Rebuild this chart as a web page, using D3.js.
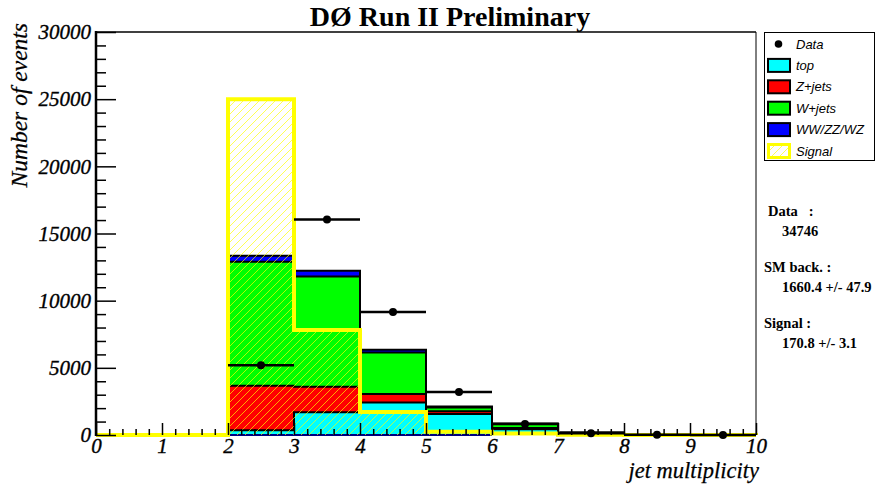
<!DOCTYPE html>
<html>
<head>
<meta charset="utf-8">
<script src="https://cdn.jsdelivr.net/npm/d3@7"></script>
<style>
  html, body { margin: 0; padding: 0; background: #fff; }
  svg { display: block; }
  .serif { font-family: "Liberation Serif", "Times New Roman", serif; }
  .sans { font-family: "Liberation Sans", Arial, sans-serif; }
</style>
</head>
<body>
<svg id="chart" width="877" height="491"></svg>
<script>
// Jet multiplicity bins: [n, n+1) for n = 0..9
const bins = [0, 1, 2, 3, 4, 5, 6, 7, 8, 9];

// Background processes (events per bin), stacked bottom to top
const topVals     = [0, 0,  350, 1690, 2420, 1570, 430, 60, 10, 5];
const zjetsVals   = [0, 0, 3320, 1910,  630,  200,  90, 30,  5, 3];
const wjetsVals   = [0, 0, 9230, 8190, 3100,  280, 290, 90, 15, 10];
const dibosonVals = [0, 0,  450,  430,  200,   80,  40, 10,  2,  2];

// Signal expectation (drawn unstacked)
const signalVals  = [0, 0, 25000, 7820, 1720, 250, 110, 20, 5, 2];

// Observed data (null = no entry drawn)
const dataVals    = [null, null, 5200, 16050, 9160, 3200, 820, 130, 10, 5];

// Axis ticks
const xTicks = [0, 1, 2, 3, 4, 5, 6, 7, 8, 9, 10];
const yTicks = [0, 5000, 10000, 15000, 20000, 25000, 30000];

// Legend entries and summary text
const legendNames = ["Data", "top", "Z+jets", "W+jets", "WW/ZZ/WZ", "Signal"];
const statLines = [
  { text: "Data   :", indent: false },
  { text: "34746", indent: true },
  { text: "SM back. :", indent: false },
  { text: "1660.4 +/- 47.9", indent: true },
  { text: "Signal :", indent: false },
  { text: "170.8 +/- 3.1", indent: true }
];

const colors = {
  top: "#00ffff", zjets: "#ff0000", wjets: "#00ff00",
  diboson: "#0000ff", signal: "#ffff00"
};

const svg = d3.select("#chart");
const W = 877, H = 491;
const plot = { left: 96, right: 756, top: 32, bottom: 435 };

const x = d3.scaleLinear().domain([0, 10]).range([plot.left, plot.right]);
const y = d3.scaleLinear().domain([0, 30000]).range([plot.bottom, plot.top]);

svg.append("rect").attr("width", W).attr("height", H).attr("fill", "#fff");

// Hatch pattern for the signal histogram
const defs = svg.append("defs");
const pat = defs.append("pattern")
  .attr("id", "hatch").attr("patternUnits", "userSpaceOnUse")
  .attr("width", 8).attr("height", 8);
pat.append("path")
  .attr("d", "M-2,2 l4,-4 M0,8 l8,-8 M6,10 l4,-4")
  .attr("stroke", colors.signal).attr("stroke-width", 0.9).attr("opacity", 0.75);

// Step outline of a histogram, starting and ending on the baseline
function stepPoints(vals) {
  const pts = [[0, 0]];
  vals.forEach((v, i) => {
    pts.push([bins[i], v]);
    pts.push([bins[i] + 1, v]);
  });
  pts.push([10, 0]);
  return pts;
}
const stepLine = d3.line().x(d => x(d[0])).y(d => y(d[1]));

// Cumulative stack
const cumTop = topVals.slice();
const cumZ = cumTop.map((v, i) => v + zjetsVals[i]);
const cumW = cumZ.map((v, i) => v + wjetsVals[i]);
const cumAll = cumW.map((v, i) => v + dibosonVals[i]);

const stack = [
  { vals: cumAll, color: colors.diboson },
  { vals: cumW, color: colors.wjets },
  { vals: cumZ, color: colors.zjets },
  { vals: cumTop, color: colors.top }
];

const gStack = svg.append("g");
gStack.selectAll("path.fill").data(stack).join("path")
  .attr("class", "fill")
  .attr("d", d => stepLine(stepPoints(d.vals)) + "Z")
  .attr("fill", d => d.color).attr("stroke", "none");
gStack.selectAll("path.edge").data(stack).join("path")
  .attr("class", "edge")
  .attr("d", d => stepLine(stepPoints(d.vals)))
  .attr("fill", "none").attr("stroke", "#000").attr("stroke-width", 2);

// Bottom edge of the stack
const stackSpan = bins.filter(i => cumAll[i] > 0);
svg.append("line")
  .attr("x1", x(stackSpan[0])).attr("x2", x(4 + 2))
  .attr("y1", y(0)).attr("y2", y(0))
  .attr("stroke", "#000080").attr("stroke-width", 2);

// Signal histogram: hatched fill with thick yellow outline
svg.append("path")
  .attr("d", stepLine(stepPoints(signalVals)) + "Z")
  .attr("fill", "url(#hatch)").attr("stroke", "none");
svg.append("path")
  .attr("d", stepLine(stepPoints(signalVals)))
  .attr("fill", "none").attr("stroke", colors.signal)
  .attr("stroke-width", 4).attr("stroke-linejoin", "miter");

// Data points with bin-width horizontal bars and Poisson vertical bars
const dataPts = bins.map(i => ({ bin: i, v: dataVals[i] })).filter(d => d.v !== null);
const gData = svg.append("g");
gData.selectAll("line.h").data(dataPts).join("line")
  .attr("class", "h")
  .attr("x1", d => x(d.bin)).attr("x2", d => x(d.bin + 1))
  .attr("y1", d => y(d.v)).attr("y2", d => y(d.v))
  .attr("stroke", "#000").attr("stroke-width", 2.5);
gData.selectAll("line.v").data(dataPts).join("line")
  .attr("class", "v")
  .attr("x1", d => x(d.bin + 0.5)).attr("x2", d => x(d.bin + 0.5))
  .attr("y1", d => y(d.v + Math.sqrt(d.v))).attr("y2", d => y(Math.max(0, d.v - Math.sqrt(d.v))))
  .attr("stroke", "#000").attr("stroke-width", 2.5);
gData.selectAll("circle").data(dataPts).join("circle")
  .attr("cx", d => x(d.bin + 0.5)).attr("cy", d => y(d.v))
  .attr("r", 4).attr("fill", "#000");

// Axes (ticks drawn inward, on top of the histograms)
const xMinor = d3.range(0, 50).map(i => i / 5).filter(v => v % 1 !== 0);
const yMinor = d3.range(0, 30000, 1000).filter(v => v % 5000 !== 0);

const tickFont = g => g.selectAll("text")
  .attr("class", "serif").style("font-style", "italic")
  .style("font-size", "21px").attr("fill", "#000")
  .attr("stroke", "#000").attr("stroke-width", 0.35);

const gx = svg.append("g").attr("transform", `translate(0,${plot.bottom})`)
  .call(d3.axisBottom(x).tickValues(xTicks).tickSize(-12).tickPadding(3).tickFormat(d3.format("d")));
gx.call(tickFont);
const gxm = svg.append("g").attr("transform", `translate(0,${plot.bottom})`)
  .call(d3.axisBottom(x).tickValues(xMinor).tickSize(-6).tickFormat(""));

const gy = svg.append("g").attr("transform", `translate(${plot.left},0)`)
  .call(d3.axisLeft(y).tickValues(yTicks).tickSize(-20).tickPadding(5).tickFormat(d3.format("d")));
gy.call(tickFont);
const gym = svg.append("g").attr("transform", `translate(${plot.left},0)`)
  .call(d3.axisLeft(y).tickValues(yMinor).tickSize(-10).tickFormat(""));

[gx, gxm, gy, gym].forEach(g => {
  g.select(".domain").remove();
  g.selectAll(".tick line").attr("stroke", "#000").attr("stroke-width", 1.5);
});

// Frame
svg.append("line").attr("x1", plot.left).attr("x2", plot.right)
  .attr("y1", plot.top).attr("y2", plot.top).attr("stroke", "#000").attr("stroke-width", 1.5);
svg.append("line").attr("x1", plot.right).attr("x2", plot.right)
  .attr("y1", plot.top).attr("y2", plot.bottom).attr("stroke", "#000").attr("stroke-width", 1);
svg.append("line").attr("x1", plot.left).attr("x2", plot.left)
  .attr("y1", plot.top - 1).attr("y2", plot.bottom + 1).attr("stroke", "#000").attr("stroke-width", 2.5);

// Redraw the signal baseline over the x axis where it is empty
svg.append("path")
  .attr("d", stepLine(stepPoints(signalVals).slice(0, 2)))
  .attr("fill", "none").attr("stroke", colors.signal).attr("stroke-width", 4);

// Titles
svg.append("text").attr("class", "serif")
  .attr("x", 450).attr("y", 26).attr("text-anchor", "middle")
  .style("font-weight", "bold").style("font-size", "28px")
  .text("DØ Run II Preliminary");

svg.append("text").attr("class", "serif")
  .attr("transform", "translate(27,23) rotate(-90)")
  .attr("text-anchor", "end")
  .style("font-style", "italic").style("font-size", "23.5px")
  .attr("stroke", "#000").attr("stroke-width", 0.25)
  .text("Number of events");

svg.append("text").attr("class", "serif")
  .attr("x", 759).attr("y", 478).attr("text-anchor", "end")
  .style("font-style", "italic").style("font-size", "22.5px")
  .attr("stroke", "#000").attr("stroke-width", 0.25)
  .text("jet multiplicity");

// Legend
const leg = svg.append("g");
leg.append("rect").attr("x", 764.5).attr("y", 32.5).attr("width", 110).attr("height", 128)
  .attr("fill", "#fff").attr("stroke", "#000").attr("stroke-width", 1);

const legendFills = [null, colors.top, colors.zjets, colors.wjets, colors.diboson, "url(#hatch)"];
const rowY = i => 44 + i * 21.4;

legendNames.forEach((name, i) => {
  const cy = rowY(i);
  if (i === 0) {
    leg.append("circle").attr("cx", 778.5).attr("cy", cy).attr("r", 3.8).attr("fill", "#000");
  } else if (i === legendNames.length - 1) {
    leg.append("rect").attr("x", 768.5).attr("y", cy - 6.5).attr("width", 21).attr("height", 13)
      .attr("fill", "#fff").attr("stroke", "none");
    leg.append("rect").attr("x", 768.5).attr("y", cy - 6.5).attr("width", 21).attr("height", 13)
      .attr("fill", legendFills[i]).attr("stroke", colors.signal).attr("stroke-width", 3);
  } else {
    leg.append("rect").attr("x", 768).attr("y", cy - 6.5).attr("width", 22).attr("height", 13)
      .attr("fill", legendFills[i]).attr("stroke", "#000").attr("stroke-width", 2);
  }
  leg.append("text").attr("class", "sans")
    .attr("x", 796).attr("y", cy + 4.6)
    .style("font-style", "italic").style("font-size", "13px")
    .text(name);
});

// Summary numbers
const statBase = [216, 236, 272, 292, 328, 348];
svg.append("g").selectAll("text").data(statLines).join("text")
  .attr("class", "serif")
  .attr("x", (d, i) => d.indent ? 782 : (i === 0 ? 768 : 764))
  .attr("y", (d, i) => statBase[i])
  .style("font-weight", "bold").style("font-size", "14.5px")
  .style("white-space", "pre")
  .text(d => d.text);
</script>
</body>
</html>
